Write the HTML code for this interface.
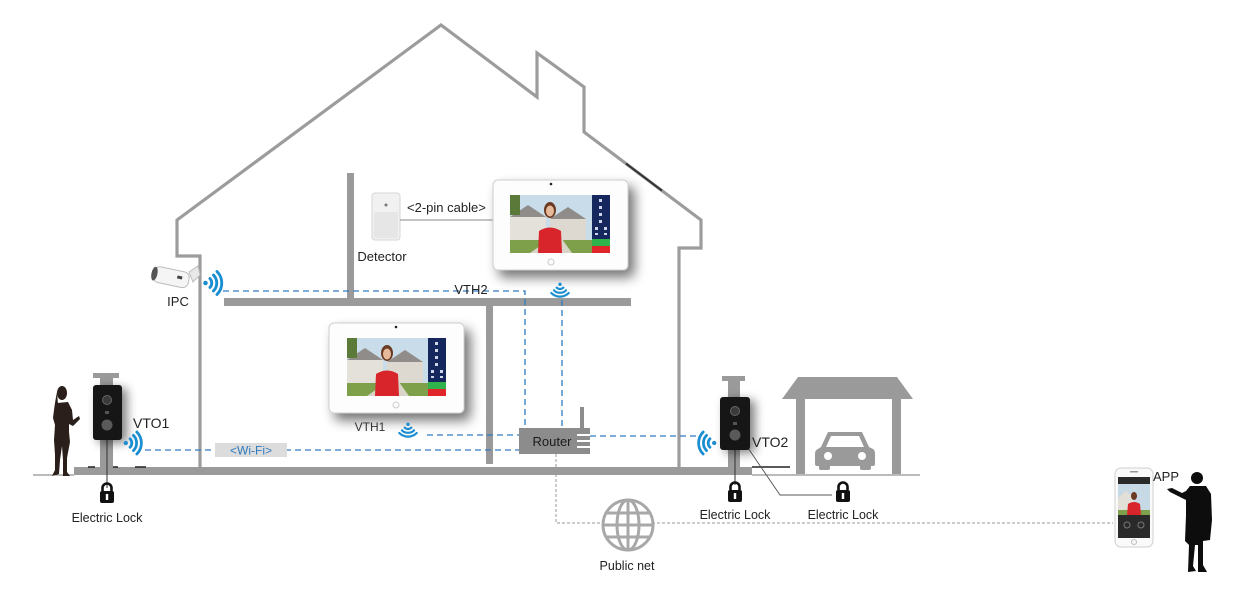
<!DOCTYPE html>
<html><head><meta charset="utf-8">
<style>
html,body{margin:0;padding:0;background:#fff;}
svg{display:block;}
text{font-family:"Liberation Sans",sans-serif;}
</style></head>
<body>
<svg width="1238" height="593" viewBox="0 0 1238 593" xmlns="http://www.w3.org/2000/svg">
<defs>
 <filter id="sh" x="-20%" y="-20%" width="150%" height="160%">
  <feGaussianBlur in="SourceAlpha" stdDeviation="6"/>
  <feOffset dx="6" dy="7"/>
  <feComponentTransfer><feFuncA type="linear" slope="0.55"/></feComponentTransfer>
  <feMerge><feMergeNode/><feMergeNode in="SourceGraphic"/></feMerge>
 </filter>
 <filter id="sh2" x="-60%" y="-30%" width="260%" height="170%">
  <feGaussianBlur in="SourceAlpha" stdDeviation="5"/>
  <feOffset dx="5" dy="3"/>
  <feComponentTransfer><feFuncA type="linear" slope="0.5"/></feComponentTransfer>
  <feMerge><feMergeNode/><feMergeNode in="SourceGraphic"/></feMerge>
 </filter>
 <g id="wifi" fill="none" stroke="#1a8ed0" stroke-width="2.3" stroke-linecap="round">
  <circle cx="-6" cy="0" r="1.8" fill="#1a8ed0" stroke="none"/>
  <path d="M-2.46,-3.54 A5 5 0 0 1 -2.46,3.54"/>
  <path d="M0.36,-6.36 A9 9 0 0 1 0.36,6.36"/>
  <path d="M3.19,-9.19 A13 13 0 0 1 3.19,9.19"/>
 </g>
 <g id="lock">
  <path d="M-4.5,-3 V-6 A4.5 4.5 0 0 1 4.5,-6 V-3" fill="none" stroke="#111" stroke-width="2.6"/>
  <rect x="-7" y="-3" width="14" height="12" rx="2" fill="#111"/>
  <rect x="-1.2" y="0" width="2.4" height="6" fill="#fff"/>
 </g>
 <g id="photo">
  <rect x="0" y="0" width="82" height="58" fill="#c9dcea"/>
  <polygon points="0,22 18,10 36,22 36,45 0,45" fill="#e4e1da"/>
  <polygon points="40,24 58,12 76,24 76,45 40,45" fill="#ddd9d0"/>
  <polygon points="0,22 18,10 36,22" fill="#8f8c8a"/>
  <polygon points="40,24 58,12 76,24" fill="#8f8c8a"/>
  <rect x="0" y="0" width="10" height="20" fill="#5b7a3a"/>
  <rect x="0" y="45" width="82" height="13" fill="#7ea04a"/>
  <polygon points="20,58 40,44 52,44 62,58" fill="#d8d4c8"/>
  <ellipse cx="40" cy="15" rx="6" ry="8" fill="#6b3a22"/>
  <ellipse cx="40" cy="16" rx="4" ry="5.5" fill="#e7b99b"/>
  <path d="M28,58 L29,36 Q40,29 51,36 L52,58 Z" fill="#d8242b"/>
 </g>
 <g id="side">
  <rect x="0" y="0" width="18" height="58" fill="#16275e"/>
  <g fill="#cfd6ea"><rect x="7" y="4" width="3" height="3"/><rect x="7" y="11" width="3" height="3"/><rect x="7" y="18" width="3" height="3"/><rect x="7" y="25" width="3" height="3"/><rect x="3" y="32" width="3" height="3"/><rect x="12" y="32" width="3" height="3"/><rect x="3" y="38" width="3" height="2"/><rect x="12" y="38" width="3" height="2"/></g>
  <rect x="0" y="44" width="18" height="7" fill="#2fb34a"/>
  <rect x="0" y="51" width="18" height="7" fill="#e0262b"/>
 </g>
</defs>

<!-- house outline -->
<polyline points="200,467 200,256 177,256 177,220 441,25 537,97 537,53 584,87 584,132 701,220 701,248 679,248 679,467" fill="none" stroke="#9c9c9c" stroke-width="3.2" stroke-linejoin="miter"/>
<line x1="626" y1="163.6" x2="662" y2="190.7" stroke="#333" stroke-width="2"/>

<!-- floors / walls -->
<rect x="224" y="298" width="407" height="8" fill="#9a9a9a"/>
<rect x="347" y="173" width="7" height="127" fill="#9a9a9a"/>
<rect x="486" y="306" width="7" height="158" fill="#9a9a9a"/>
<rect x="74" y="467" width="678" height="8" fill="#9a9a9a"/>
<line x1="33" y1="475" x2="74" y2="475" stroke="#777" stroke-width="1"/>
<line x1="752" y1="475" x2="920" y2="475" stroke="#777" stroke-width="1"/>
<g stroke="#222" stroke-width="1.5"><line x1="88" y1="467" x2="95" y2="467"/><line x1="113" y1="467" x2="118" y2="467"/><line x1="135" y1="467" x2="146" y2="467"/><line x1="752" y1="467" x2="790" y2="467"/></g>

<!-- garage -->
<polygon points="798,377 897,377 913,399 782,399" fill="#9a9a9a"/>
<rect x="796" y="399" width="9" height="75" fill="#9a9a9a"/>
<rect x="892" y="399" width="9" height="75" fill="#9a9a9a"/>
<g fill="#9a9a9a">
 <path d="M828,432 L862,432 L869,447 L873,449 Q875,450 875,454 L875,464 Q875,466 873,466 L817,466 Q815,466 815,464 L815,454 Q815,450 818,449 L821,447 Z"/>
 <rect x="819" y="463" width="11" height="7" rx="2"/>
 <rect x="860" y="463" width="11" height="7" rx="2"/>
</g>
<path d="M831,436 L859,436 L864,447 L826,447 Z" fill="#fff"/>
<circle cx="828" cy="456" r="4" fill="#fff"/>
<circle cx="862" cy="456" r="4" fill="#fff"/>

<!-- dashed blue connections -->
<g fill="none" stroke="#2d7bbf" stroke-width="1.3" stroke-dasharray="6 4">
 <polyline points="223,291 525,291 525,428"/>
 <line x1="562" y1="300" x2="562" y2="428"/>
 <line x1="145" y1="450" x2="519" y2="450"/>
 <line x1="427" y1="435" x2="519" y2="435"/>
 <line x1="590" y1="436" x2="700" y2="436"/>
</g>
<!-- public net dashed -->
<polyline points="556,454 556,523 1113,523" fill="none" stroke="#9a9a9a" stroke-width="1" stroke-dasharray="3 2"/>

<!-- Wi-Fi label -->
<rect x="215" y="443" width="72" height="14" fill="#dcdcdc"/>
<text x="251" y="454.5" font-size="12" fill="#2d7bbf" text-anchor="middle">&lt;Wi-Fi&gt;</text>

<!-- router -->
<rect x="580" y="407" width="4" height="22" fill="#8c8c8c"/>
<rect x="519" y="428" width="71" height="26" fill="#8c8c8c"/>
<g stroke="#fff" stroke-width="2"><line x1="577" y1="435" x2="590" y2="435"/><line x1="577" y1="441" x2="590" y2="441"/><line x1="577" y1="447" x2="590" y2="447"/></g>
<text x="552" y="446" font-size="13" fill="#1c1c1c" text-anchor="middle">Router</text>

<!-- globe -->
<g fill="none" stroke="#a8a8a8" stroke-width="3">
 <circle cx="628" cy="525" r="25" fill="#fff"/>
 <ellipse cx="628" cy="525" rx="11" ry="25"/>
 <line x1="628" y1="500" x2="628" y2="550"/>
 <line x1="603" y1="525" x2="653" y2="525"/>
 <line x1="607" y1="513" x2="649" y2="513"/>
 <line x1="607" y1="537" x2="649" y2="537"/>
</g>
<text x="627" y="570" font-size="12.5" fill="#222" text-anchor="middle">Public net</text>

<!-- detector -->
<rect x="372" y="193" width="28" height="47" rx="3" fill="#f1f1f1" stroke="#d6d6d6"/>
<rect x="374" y="212" width="24" height="26" rx="2" fill="#e6e6e6"/>
<circle cx="386" cy="205" r="1.5" fill="#777"/>
<text x="382" y="261" font-size="13" fill="#222" text-anchor="middle">Detector</text>
<line x1="400" y1="220" x2="493" y2="220" stroke="#888" stroke-width="1"/>
<text x="407" y="212" font-size="13" fill="#222">&lt;2-pin cable&gt;</text>

<!-- VTH2 -->
<g filter="url(#sh)">
 <rect x="493" y="180" width="135" height="90" rx="5" fill="#fdfdfd" stroke="#cfcfcf"/>
</g>
<g transform="translate(510,195)"><use href="#photo"/></g>
<g transform="translate(592,195)"><use href="#side"/></g>
<circle cx="551" cy="184" r="1.3" fill="#222"/>
<circle cx="551" cy="262" r="3" fill="none" stroke="#ccc"/>
<text x="471" y="294" font-size="13" fill="#222" text-anchor="middle">VTH2</text>
<use href="#wifi" transform="translate(560,290) rotate(90) scale(0.95)"/>

<!-- VTH1 -->
<g filter="url(#sh)">
 <rect x="329" y="323" width="135" height="90" rx="5" fill="#fdfdfd" stroke="#cfcfcf"/>
</g>
<g transform="translate(347,338)"><use href="#photo"/></g>
<g transform="translate(428,338)"><use href="#side"/></g>
<circle cx="396" cy="327" r="1.3" fill="#222"/>
<circle cx="396" cy="405" r="3" fill="none" stroke="#ccc"/>
<text x="370" y="431" font-size="12" fill="#333" text-anchor="middle">VTH1</text>
<use href="#wifi" transform="translate(408,430) rotate(90) scale(0.95)"/>

<!-- IPC -->
<g transform="translate(175,278) rotate(12)">
 <rect x="-22" y="-8" width="36" height="16" rx="6" fill="#f5f5f5" stroke="#bdbdbd"/>
 <ellipse cx="-21" cy="0" rx="3" ry="7" fill="#555"/>
 <rect x="2" y="-3" width="5" height="3" fill="#444"/>
</g>
<path d="M189,272 L198,266 L200,275 L193,282 Z" fill="#e8e8e8" stroke="#bbb"/>
<text x="178" y="306" font-size="13" fill="#222" text-anchor="middle">IPC</text>
<use href="#wifi" transform="translate(213,283) scale(1.25)"/>

<!-- woman -->
<g fill="#2a1f1a">
 <ellipse cx="62" cy="393" rx="5" ry="7"/>
 <path d="M57,392 Q55,402 54,410 L58,404 Z"/>
 <path d="M57,403 L68,402 L72,410 L73,420 L79,416 L80,419 L73,426 L69,424 L69,432 L70,442 L67,458 L67,472 L70,476 L63,476 L63,460 L62,446 L60,460 L59,474 L52,476 L55,470 L55,455 L54,440 L55,425 L53,418 L54,410 Z"/>
</g>

<!-- VTO1 -->
<rect x="93" y="373" width="26" height="5" fill="#9a9a9a"/>
<rect x="100" y="378" width="13" height="89" fill="#9a9a9a"/>
<line x1="107" y1="440" x2="107" y2="488" stroke="#333" stroke-width="1"/>
<g filter="url(#sh2)">
 <rect x="93" y="385" width="29" height="55" rx="3" fill="#161616"/>
</g>
<circle cx="107" cy="400" r="4.5" fill="#3a3a3a" stroke="#666"/>
<rect x="105" y="411" width="4" height="3" fill="#555"/>
<circle cx="107" cy="425" r="5.5" fill="#5a5a5a"/>
<text x="133" y="428" font-size="14" fill="#222">VTO1</text>
<use href="#wifi" transform="translate(133,443) scale(1.2)"/>
<use href="#lock" transform="translate(107,494)"/>
<text x="107" y="522" font-size="12.5" fill="#222" text-anchor="middle">Electric Lock</text>

<!-- VTO2 -->
<rect x="722" y="376" width="23" height="5" fill="#9a9a9a"/>
<rect x="728" y="381" width="12" height="86" fill="#9a9a9a"/>
<line x1="735" y1="450" x2="735" y2="485" stroke="#333" stroke-width="1"/>
<polyline points="748,448 780,495 832,495" fill="none" stroke="#555" stroke-width="0.9"/>
<g filter="url(#sh2)">
 <rect x="720" y="397" width="30" height="53" rx="3" fill="#161616"/>
</g>
<circle cx="735" cy="411" r="4.5" fill="#3a3a3a" stroke="#666"/>
<rect x="733" y="422" width="4" height="3" fill="#555"/>
<circle cx="735" cy="435" r="5.5" fill="#5a5a5a"/>
<text x="752" y="447" font-size="14" fill="#222">VTO2</text>
<use href="#wifi" transform="translate(707,443) rotate(180) scale(1.2)"/>
<use href="#lock" transform="translate(735,493)"/>
<use href="#lock" transform="translate(843,493)"/>
<text x="735" y="519" font-size="12.5" fill="#222" text-anchor="middle">Electric Lock</text>
<text x="843" y="519" font-size="12.5" fill="#222" text-anchor="middle">Electric Lock</text>

<!-- phone -->
<rect x="1115" y="468" width="38" height="79" rx="6" fill="#fafafa" stroke="#cfcfcf"/>
<rect x="1118" y="477" width="32" height="61" fill="#2a2a2a"/>
<rect x="1118" y="484" width="32" height="31" fill="#c8d9e6"/>
<polygon points="1118,498 1126,491 1134,498 1134,510 1118,510" fill="#e2dfd8"/>
<rect x="1118" y="510" width="32" height="5" fill="#7ea04a"/>
<ellipse cx="1134" cy="496" rx="3" ry="4" fill="#6b3a22"/>
<path d="M1127,515 L1128,504 Q1134,500 1140,504 L1141,515 Z" fill="#d8242b"/>
<circle cx="1127" cy="525" r="3" fill="none" stroke="#777"/>
<circle cx="1141" cy="525" r="3" fill="none" stroke="#777"/>
<rect x="1130" y="471" width="8" height="1.5" fill="#999"/>
<circle cx="1134" cy="542" r="2.5" fill="none" stroke="#bbb"/>
<text x="1153" y="481" font-size="13" fill="#222">APP</text>

<!-- man -->
<g fill="#0d0d0d">
 <circle cx="1197" cy="478" r="6"/>
 <path d="M1190,486 L1206,486 L1211,494 L1212,520 L1210,540 L1203,541 L1203,565 L1207,572 L1198,572 L1198,545 L1195,545 L1193,566 L1196,571 L1188,572 L1189,545 L1185,541 L1186,515 L1186,500 L1180,497 L1170,492 L1167,489 L1172,488 L1182,493 L1186,491 Z"/>
</g>
</svg>
</body></html>
